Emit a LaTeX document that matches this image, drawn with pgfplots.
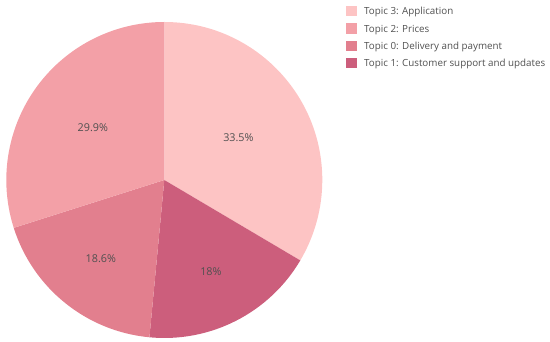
\documentclass[border=0pt]{standalone}
\usepackage{pgfplots}
\usepackage{pgfplotstable}
\pgfplotsset{compat=1.18}
\usepackage{fontspec}
\setmainfont{Open Sans}
\definecolor{topic3}{RGB}{253,196,196}
\definecolor{topic2}{RGB}{243,160,167}
\definecolor{topic0}{RGB}{226,127,142}
\definecolor{topic1}{RGB}{204,94,124}
\definecolor{textgray}{RGB}{80,80,80}
% slices in clockwise order from 12 o'clock
\pgfplotstableread{
idx pct lr
3 33.5 0.54
1 18 0.65
0 18.6 0.64
2 29.9 0.56
}\piedata
\begin{document}
\def\cum{0}%
\pgfplotsforeachungrouped \i in {0,1,2,3}{%
  \pgfplotstablegetelem{\i}{pct}\of\piedata \let\p\pgfplotsretval
  \pgfplotstablegetelem{\i}{idx}\of\piedata \let\id\pgfplotsretval
  \pgfplotstablegetelem{\i}{lr}\of\piedata \let\lr\pgfplotsretval
  \pgfmathsetmacro\sa{90-3.6*\cum}%
  \pgfmathsetmacro\cum{\cum+\p}%
  \pgfmathsetmacro\ea{90-3.6*\cum}%
  \pgfmathsetmacro\ma{(\sa+\ea)/2}%
  \pgfmathsetmacro\lx{\lr*cos(\ma)}%
  \pgfmathsetmacro\ly{\lr*sin(\ma)}%
  \expandafter\xdef\csname sa\i\endcsname{\sa}%
  \expandafter\xdef\csname ea\i\endcsname{\ea}%
  \expandafter\xdef\csname lx\i\endcsname{\lx}%
  \expandafter\xdef\csname ly\i\endcsname{\ly}%
  \expandafter\xdef\csname pc\i\endcsname{\p}%
  \expandafter\xdef\csname col\i\endcsname{topic\id}%
}%
\begin{tikzpicture}
\path[use as bounding box] (0,0) rectangle (550pt,342pt);
\begin{axis}[
  at={(164.3pt,162pt)}, anchor=origin,
  x=158pt, y=158pt,
  xmin=-1, xmax=1, ymin=-1, ymax=1,
  hide axis, clip=false,
  legend cell align=left,
  legend image code/.code={\path[#1] (0pt,-1.5pt) rectangle (10.5pt,9pt);},
  legend style={at={(1.075,1.0514)}, anchor=north west, draw=none, fill=none,
    font=\fontsize{9.8}{12}\selectfont, text=textgray,
    row sep=5.9pt, column sep=7.5pt, inner sep=0pt,
    nodes={inner sep=0pt, text height=7.4pt, text depth=2.4pt, anchor=base west}},
]
\addlegendimage{fill=topic3, draw=none}\addlegendentry{Topic 3: Application}
\addlegendimage{fill=topic2, draw=none}\addlegendentry{Topic 2: Prices}
\addlegendimage{fill=topic0, draw=none}\addlegendentry{Topic 0: Delivery and payment}
\addlegendimage{fill=topic1, draw=none}\addlegendentry{Topic 1: Customer support and updates}
\pgfplotsinvokeforeach{0,1,2,3}{
  \fill[fill=\csname col#1\endcsname] (axis cs:0,0) -- ++(\csname sa#1\endcsname:158pt)
    arc[start angle=\csname sa#1\endcsname, end angle=\csname ea#1\endcsname, radius=158pt] -- cycle;
}
\pgfplotsinvokeforeach{0,1,2,3}{
  \node[text=textgray, font=\fontsize{10.8}{12}\selectfont, inner sep=0pt]
    at (axis cs:{\csname lx#1\endcsname},{\csname ly#1\endcsname}) {\csname pc#1\endcsname\%};
}
\end{axis}
\end{tikzpicture}
\end{document}
